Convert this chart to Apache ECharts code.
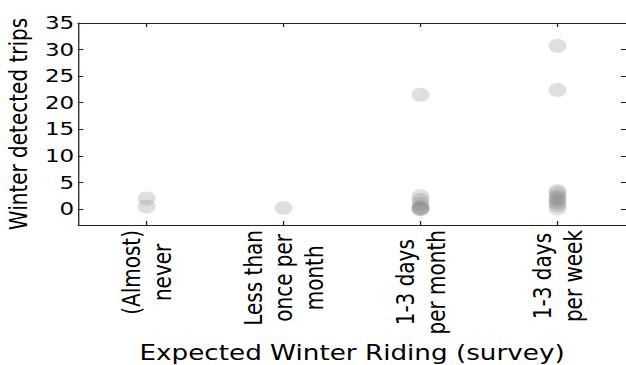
<!DOCTYPE html>
<html>
<head>
<meta charset="utf-8">
<script src="https://cdn.jsdelivr.net/npm/echarts@6/dist/echarts.min.js"></script>
<style>
  html, body { margin: 0; padding: 0; background: #fff; }
  #wrap { width: 626px; height: 365px; overflow: hidden; position: relative; }
  /* the figure is laid out narrow and stretched horizontally */
  #chart { width: 489px; height: 365px; transform: scaleX(1.2802); transform-origin: 0 0; }
</style>
</head>
<body>
<div id="wrap"><div id="chart"></div></div>
<script>
// Survey answer categories (x axis)
const categories = [
  '(Almost)\nnever',
  'Less than\nonce per\nmonth',
  '1-3 days\nper month',
  '1-3 days\nper week'
];

// Detected winter trips for each respondent, grouped by survey answer
const tripsNever      = [2.0, 0.5];
const tripsLessThanMo = [0.2];
const tripsPerMonth   = [21.5, 2.4, 1.7, 1.0, 0.4, 0.1, 0.0, 0.0];
const tripsPerWeek    = [30.7, 22.4, 3.4, 3.0, 2.4, 2.0, 1.6, 1.2, 0.7, 0.1];

// Y axis tick labels
const yTicks = [0, 5, 10, 15, 20, 25, 30, 35];

const groups = [tripsNever, tripsLessThanMo, tripsPerMonth, tripsPerWeek];
const points = [];
groups.forEach((vals, i) => vals.forEach(v => points.push([categories[i], v])));

const FONT = 'DejaVu Sans';
const axisCol = '#222';

const chart = echarts.init(document.getElementById('chart'), null, { renderer: 'svg' });
chart.setOption({
  animation: false,
  backgroundColor: '#fff',
  grid: { left: 61, right: 0, top: 23, bottom: 140, containLabel: false, outerBoundsMode: 'none' },
  xAxis: [
    {
      type: 'category',
      data: categories,
      boundaryGap: true,
      position: 'bottom',
      axisLine: { show: true, onZero: false, lineStyle: { color: axisCol, width: 1 } },
      axisTick: { show: true, inside: true, length: 4, alignWithLabel: true, lineStyle: { color: axisCol } },
      axisLabel: {
        rotate: 90,
        margin: 5,
        interval: 0,
        color: '#000',
        fontFamily: FONT,
        fontSize: 20,
        lineHeight: 24,
        formatter: v => v.split('\n').map(l => '{c|' + l + '}').join('\n'),
        rich: { c: { align: 'center', fontFamily: FONT, fontSize: 20, lineHeight: 24, color: '#000' } }
      },
      name: 'Expected Winter Riding (survey)',
      nameLocation: 'middle',
      nameGap: 117,
      nameTextStyle: { fontFamily: FONT, fontSize: 20.5, color: '#000' },
      splitLine: { show: false }
    },
    {
      type: 'category',
      data: categories,
      boundaryGap: true,
      position: 'top',
      axisLine: { show: true, onZero: false, lineStyle: { color: axisCol, width: 1 } },
      axisTick: { show: true, inside: true, length: 4, alignWithLabel: true, lineStyle: { color: axisCol } },
      axisLabel: { show: false },
      splitLine: { show: false }
    }
  ],
  yAxis: [
    {
      type: 'value',
      min: -3,
      max: 35,
      position: 'left',
      axisLine: { show: true, onZero: false, lineStyle: { color: axisCol, width: 1 } },
      axisTick: { show: true, inside: true, length: 4, customValues: yTicks, lineStyle: { color: axisCol } },
      axisLabel: { margin: 3, color: '#000', fontFamily: FONT, fontSize: 18, customValues: yTicks },
      splitLine: { show: false },
      name: 'Winter detected trips',
      nameLocation: 'middle',
      nameGap: 31,
      nameTextStyle: { fontFamily: FONT, fontSize: 20, color: '#000' }
    },
    {
      type: 'value',
      min: -3,
      max: 35,
      position: 'right',
      axisLine: { show: true, onZero: false, lineStyle: { color: axisCol, width: 1 } },
      axisTick: { show: true, inside: true, length: 4, customValues: yTicks, lineStyle: { color: axisCol } },
      axisLabel: { show: false },
      splitLine: { show: false }
    }
  ],
  series: [{
    type: 'scatter',
    xAxisIndex: 0,
    yAxisIndex: 0,
    data: points,
    symbol: 'circle',
    symbolSize: 14,
    itemStyle: { color: 'rgba(128,128,128,0.32)', borderWidth: 0 },
    emphasis: { disabled: true }
  }]
});
</script>
</body>
</html>
